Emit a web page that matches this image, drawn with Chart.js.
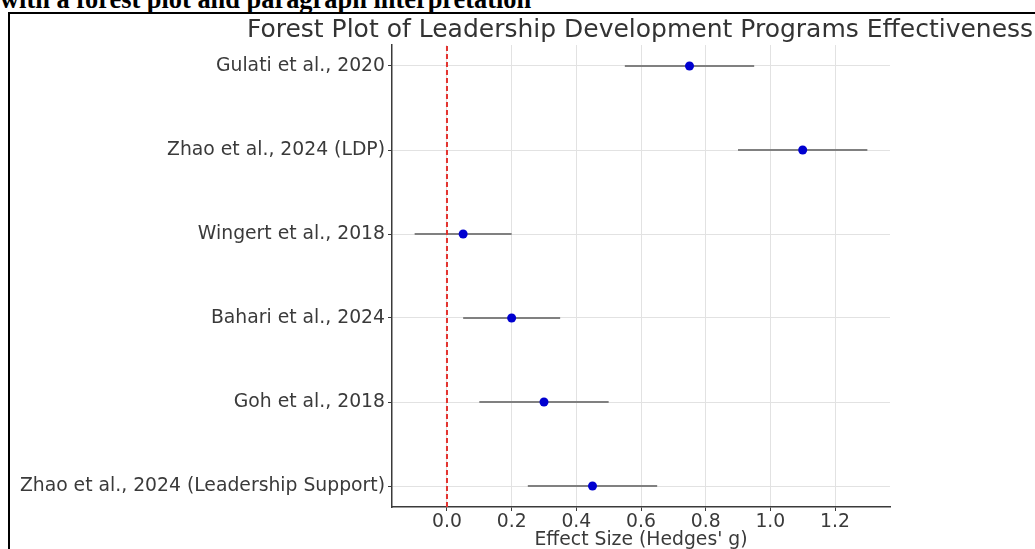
<!DOCTYPE html>
<html>
<head>
<meta charset="utf-8">
<script src="https://cdn.jsdelivr.net/npm/chart.js@4"></script>
<style>
  html, body { margin: 0; padding: 0; overflow: hidden; background: #fff; }
  #page { position: relative; width: 1035px; height: 549px; overflow: hidden; }
  #heading {
    position: absolute; left: 0; top: -14px; white-space: nowrap;
    font-family: "Liberation Serif", "Times New Roman", serif; font-weight: bold;
    font-size: 26.4px; line-height: 26px; color: #000;
  }
  #frame {
    position: absolute; left: 8px; top: 12px; width: 2000px; height: 1000px;
    border: 2px solid #000; pointer-events: none;
  }
  #wrap { position: absolute; left: 0; top: 0; width: 1280px; height: 549px; }
</style>
</head>
<body>
<div id="page">
  <div id="heading">with a forest plot and paragraph interpretation</div>
  <div id="wrap"><canvas id="forest" width="1280" height="549"></canvas></div>
  <div id="frame"></div>
</div>
<script>
// data, top row first
const studies = ['Gulati et al., 2020', 'Zhao et al., 2024 (LDP)', 'Wingert et al., 2018',
                 'Bahari et al., 2024', 'Goh et al., 2018', 'Zhao et al., 2024 (Leadership Support)'];
const effects = [0.75, 1.10, 0.05, 0.20, 0.30, 0.45];
const ciLower = [0.55, 0.90, -0.10, 0.05, 0.10, 0.25];
const ciUpper = [0.95, 1.30, 0.20, 0.35, 0.50, 0.65];
const xTicks = [0.0, 0.2, 0.4, 0.6, 0.8, 1.0, 1.2];

const n = studies.length;
const rowOf = i => n - 1 - i; // matplotlib puts first row at top

const font = { family: 'DejaVu Sans', size: 18.8 };
const textColor = '#3a3a3a';
const gridColor = '#e2e2e2';
const spineColor = '#3a3a3a';

// dots
const pointSet = {
  label: 'effect',
  data: effects.map((e, i) => ({ x: e, y: rowOf(i) })),
  showLine: false,
  pointRadius: 4.5,
  pointHoverRadius: 4.5,
  backgroundColor: '#0000d0',
  borderColor: '#0000d0',
  borderWidth: 0
};

// red dashed zero line
const zeroSet = {
  label: 'zero',
  data: [{ x: 0, y: -0.25 }, { x: 0, y: n - 0.75 }],
  showLine: true,
  borderColor: '#e3332f',
  borderWidth: 2,
  borderDash: [5, 3],
  pointRadius: 0
};

// confidence intervals, one little line each
const ciSets = studies.map((s, i) => ({
  label: s,
  data: [{ x: ciLower[i], y: rowOf(i) }, { x: ciUpper[i], y: rowOf(i) }],
  showLine: true,
  borderColor: '#808080',
  borderWidth: 2,
  pointRadius: 0
}));

const config = {
  type: 'scatter',
  data: { datasets: [pointSet, zeroSet, ...ciSets] },
  options: {
    responsive: false,
    animation: false,
    layout: { padding: 0 },
    plugins: {
      legend: { display: false },
      tooltip: { enabled: false },
      title: {
        display: true,
        text: 'Forest Plot of Leadership Development Programs Effectiveness',
        color: '#333',
        font: { family: 'DejaVu Sans', size: 25, weight: 'normal', lineHeight: 1.1 },
        padding: { top: 17, bottom: 0.5 }
      }
    },
    scales: {
      x: {
        type: 'linear',
        min: -0.17,
        max: 1.37,
        afterBuildTicks: axis => { axis.ticks = xTicks.map(v => ({ value: v })); },
        afterFit: scale => { scale.height = 42; },
        ticks: {
          color: textColor, font, padding: 0,
          callback: v => v.toFixed(1)
        },
        grid: { color: gridColor, tickColor: spineColor, tickLength: 4, lineWidth: 1 },
        border: { color: spineColor, width: 1.5 },
        title: {
          display: true, text: "Effect Size (Hedges' g)", color: textColor,
          font: { family: 'DejaVu Sans', size: 18.8, lineHeight: 1 },
          padding: { top: 0, bottom: -1 }
        }
      },
      y: {
        type: 'linear',
        min: -0.25,
        max: n - 0.75,
        afterBuildTicks: axis => { axis.ticks = studies.map((s, i) => ({ value: i })); },
        afterFit: scale => { scale.width = 392; },
        ticks: {
          color: textColor, font, padding: 3,
          callback: v => studies[rowOf(v)]
        },
        grid: { color: gridColor, tickColor: spineColor, tickLength: 4, lineWidth: 1 },
        border: { color: spineColor, width: 1.5 }
      },
      // empty right-hand axis, only reserves space so the title centres like matplotlib's
      yPad: {
        position: 'right',
        display: true,
        afterFit: scale => { scale.width = 390; },
        ticks: { display: false },
        grid: { display: false, drawOnChartArea: false },
        border: { display: false }
      }
    }
  }
};

const forest = new Chart(document.getElementById('forest'), config);
</script>
</body>
</html>
